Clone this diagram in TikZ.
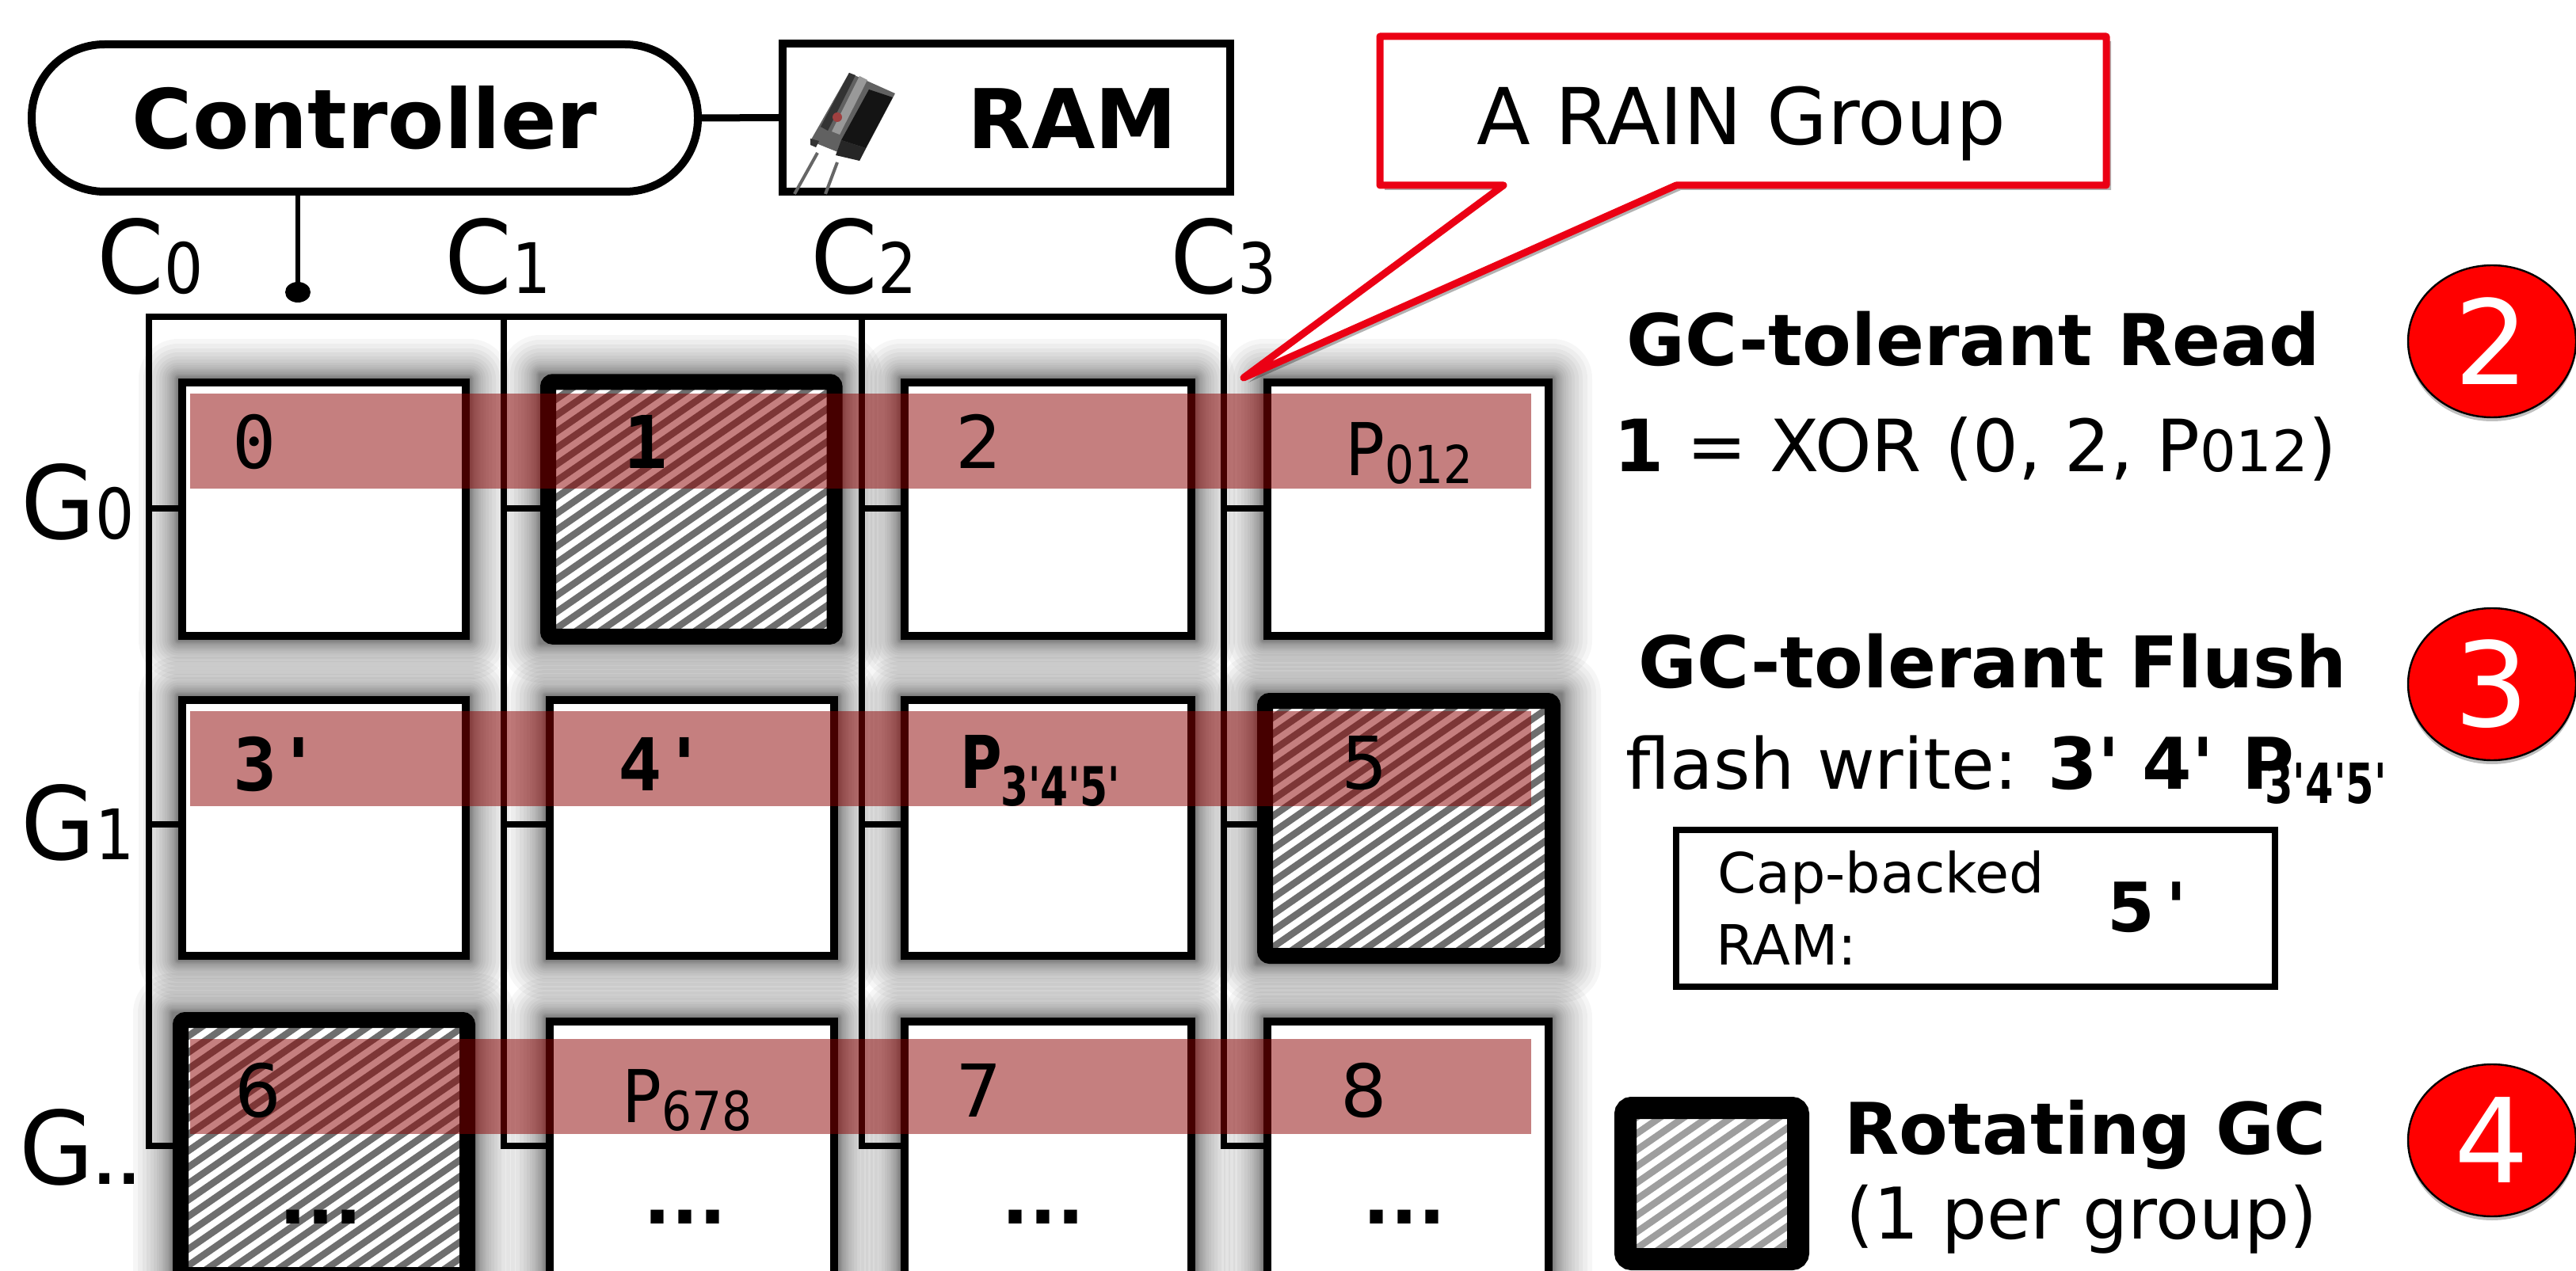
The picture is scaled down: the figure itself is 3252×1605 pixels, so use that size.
\documentclass[tikz,border=0pt]{standalone}
\usepackage{fontspec}
\setmainfont{DejaVu Sans}
\setmonofont{DejaVu Sans Mono}
\newfontfamily\dvplain{DejaVu Sans}
\usetikzlibrary{calc,shapes.geometric}
\definecolor{bandred}{RGB}{140,0,0}
\definecolor{stripegray}{RGB}{110,110,110}
\definecolor{iconstripe}{RGB}{158,158,158}
\definecolor{calloutred}{RGB}{235,0,20}
\newcommand{\fs}[1]{\fontsize{#1}{#1}\selectfont}
\newcommand{\sq}{{\dvplain '}}
\tikzset{
  wire/.style={line width=3.8pt,black},
  cellbox/.style={draw=black,line width=5pt,fill=white,inner sep=0pt},
  gcbox/.style={draw=black,line width=10pt,inner sep=0pt,rounded corners=3pt},
  band/.style={fill=bandred,fill opacity=0.5,draw=none},
  celltxt/.style={inner sep=0pt,anchor=base,font=\fs{46}},
  monotxt/.style={inner sep=0pt,anchor=base,font=\ttfamily\fs{46}},
  monobold/.style={inner sep=0pt,anchor=base,font=\ttfamily\bfseries\fs{46}},
  lab/.style={inner sep=0pt,anchor=base west},
  ttl/.style={inner sep=0pt,anchor=base west,font=\bfseries\fs{45}},
  dotstxt/.style={inner sep=0pt,anchor=base,font=\bfseries\fs{46}},
  redcirc/.style={ellipse,draw=black,line width=1.2pt,fill=red},
  numtxt/.style={inner sep=0pt,text=white,font=\fs{74}},
}
\newcommand{\softshadow}[4]{%
  \foreach \d in {1,2,3,4,5,6,8,10,12,14,17,20,24,28,33,38,44,50}{
    \fill[black,opacity=0.035,rounded corners=\d*0.5pt] (#1-\d,#2-\d) rectangle (#3+\d,#4+\d);
  }}
\newcommand{\hatch}[5]{%
  \begin{scope}
    \clip (#1,#2) rectangle (#3,#4);
    \fill[white] (#1,#2) rectangle (#3,#4);
    \foreach \k in {0,30,...,1320}{
      \draw[#5,line width=4.3pt] (#1-660+\k,#4+60) -- ++(1000,-690);
    }
  \end{scope}}
\newcommand{\CGlabel}[5]{\node[lab] (#1) at (#2,#3) {\fs{64}\scalebox{.95}[1]{#4}\fs{44}\scalebox{.88}[1]{#5}};}
\begin{document}
\begin{tikzpicture}[x=0.5pt,y=-0.5pt]
\clip (0,0) rectangle (3252,1605);
\fill[white] (0,0) rectangle (3252,1605);

% soft shadows
\softshadow{225}{478}{593}{808}
\softshadow{682}{473}{1063}{812}
\softshadow{1137}{478}{1509}{808}
\softshadow{1595}{478}{1960}{808}
\softshadow{225}{879}{593}{1212}
\softshadow{689}{879}{1058}{1212}
\softshadow{1137}{879}{1509}{1212}
\softshadow{1587}{876}{1971}{1216}
\softshadow{218}{1279}{600}{1700}
\softshadow{689}{1285}{1058}{1700}
\softshadow{1137}{1285}{1509}{1700}
\softshadow{1595}{1285}{1960}{1700}

% top elements
\node[draw=black,line width=5pt,fill=white,rounded corners=46pt,minimum width=420.5pt,minimum height=93pt,inner sep=0pt,font=\bfseries\fs{52}] (ctrl) at (460.5,149) {Controller};
\node[draw=black,line width=5pt,fill=white,minimum width=282.5pt,minimum height=93.5pt,inner sep=0pt] (ram) at (1270.5,148.5) {};
\node[inner sep=0pt,font=\bfseries\fs{52}] (ramtxt) at (1354,150) {RAM};
\draw[line width=4.5pt] (ctrl.east) -- (ram.west);

% capacitor
\draw[gray!80!black,line width=2pt] (1032,193) -- (1003,245);
\draw[gray!80!black,line width=2pt] (1057,205) -- (1042,245);
\fill[black!62] (1072,92) -- (1130,118) -- (1085,203) -- (1023,178) -- cycle;
\fill[black!92] (1097,113) -- (1127,123) -- (1093,187) -- (1062,177) -- cycle;
\fill[black!85] (1062,177) -- (1093,187) -- (1085,203) -- (1055,196) -- cycle;
\fill[black!80] (1023,175) -- (1034,178) -- (1030,186) -- (1023,183) -- cycle;
\fill[black!80] (1072,92) -- (1080,95) -- (1045,165) -- (1036,160) -- cycle;
\fill[black!40] (1085,96) -- (1095,101) -- (1060,170) -- (1050,166) -- cycle;
\fill[red!50!black!75] (1057,148) circle (3pt);

% bus
\coordinate (busdot) at (376,369);
\coordinate (ct) at (ctrl.south -| busdot);
\draw[line width=3pt] (ct) -- (busdot);
\fill[black] (busdot) ellipse (8pt and 6.5pt);
\coordinate (c0t) at (188,400);
\coordinate (c1t) at (636,400);
\coordinate (c2t) at (1088,400);
\coordinate (c3t) at (1545,400);
\coordinate (c0b) at (188,1447);
\coordinate (c1b) at (636,1447);
\coordinate (c2b) at (1088,1447);
\coordinate (c3b) at (1545,1447);
\draw[wire,line cap=rect] (c0t) -- (c3t);
\foreach \c in {0,1,2,3}{\draw[wire,line cap=rect] (c\c t) -- (c\c b);}
\foreach \c/\x in {0/230,1/695,2/1145,3/1600}{
  \draw[wire] (c\c t |- 0,642) -- (\x,642);
  \draw[wire] (c\c t |- 0,1041) -- (\x,1041);
  \draw[wire] (c\c t |- 0,1447) -- (\x,1447);
}

% cells
\tikzset{r0/.style={minimum height=160pt},r1/.style={minimum height=161.5pt},r2/.style={minimum height=205pt},
  k0/.style={minimum width=179pt},k1/.style={minimum width=179.5pt},k2/.style={minimum width=181pt},k3/.style={minimum width=177.5pt}}
\node[cellbox,r0,k0] (b00) at (409,643) {};
\node[cellbox,r0,k2] (b02) at (1323,643) {};
\node[cellbox,r0,k3] (b03) at (1777.5,643) {};
\node[cellbox,r1,k0] (b10) at (409,1045.5) {};
\node[cellbox,r1,k1] (b11) at (873.5,1045.5) {};
\node[cellbox,r1,k2] (b12) at (1323,1045.5) {};
\node[cellbox,r2,k1] (b21) at (873.5,1495) {};
\node[cellbox,r2,k2] (b22) at (1323,1495) {};
\node[cellbox,r2,k3] (b23) at (1777.5,1495) {};

% rotating GC cells
\hatch{702}{492}{1044}{796}{stripegray}
\node[gcbox,minimum width=180.75pt,minimum height=160.75pt] (b01) at (872.75,643) {};
\hatch{1607}{894}{1950}{1198}{stripegray}
\node[gcbox,minimum width=181.5pt,minimum height=161pt] (b13) at (1778.5,1046) {};
\hatch{238}{1297}{581}{1600}{stripegray}
\node[gcbox,minimum width=181pt,minimum height=161pt] (b20) at (409,1449) {};

% bands
\fill[band] (240,497) rectangle (1933,617);
\fill[band] (240,898) rectangle (1933,1018);
\fill[band] (240,1312) rectangle (1933,1432);

% cell labels
\node[monotxt] (t0) at (321,591) {0};
\node[monobold] (t1) at (815,591) {1};
\node[celltxt] (t2) at (1236,591) {2};
\node[inner sep=0pt,anchor=base west] (tp1) at (1698,600) {\fs{46}\scalebox{.9}[1]{P}\fs{33}\raisebox{-5pt}{\scalebox{.88}[1]{012}}};
\node[monobold] (t3) at (350,998) {3'};
\node[monobold] (t4) at (836,998) {4'};
\node[inner sep=0pt,anchor=base west] (tp2) at (1212,995) {\bfseries\fs{46}\scalebox{.78}[1]{P}\hspace{-1pt}\fs{34}\raisebox{-11pt}{\scalebox{.74}[1]{3\sq4\sq5\sq}}};
\node[celltxt] (t5) at (1723,996) {5};
\node[celltxt] (t6) at (326,1410) {6};
\node[inner sep=0pt,anchor=base west] (tp3) at (785,1417) {\fs{46}\scalebox{.9}[1]{P}\fs{34}\raisebox{-5pt}{\scalebox{.88}[1]{678}}};
\node[celltxt] (t7) at (1236,1410) {7};
\node[celltxt] (t8) at (1722,1410) {8};
\node[dotstxt] (d0) at (405,1545) {...};
\node[dotstxt] (d1) at (865,1545) {...};
\node[dotstxt] (d2) at (1317,1545) {...};
\node[dotstxt] (d3) at (1773,1545) {...};

% axis labels
\CGlabel{lc0}{122}{371}{C}{0}
\CGlabel{lc1}{561}{371}{C}{1}
\CGlabel{lc2}{1023}{371}{C}{2}
\CGlabel{lc3}{1477}{371}{C}{3}
\CGlabel{lg0}{26}{680}{G}{0}
\CGlabel{lg1}{26}{1085}{G}{1}
\node[lab] (lg2) at (24,1495) {\fs{64}\scalebox{.95}[1]{G}\bfseries\fs{36}.\hspace{2pt}.};

% callout
\fill[black,opacity=0.3,line join=round] (1748,52) -- (2665,52) -- (2665,240) -- (2122,240) -- (1576,483) -- (1904,240) -- (1748,240) -- cycle;
\draw[calloutred,line width=4.5pt,fill=white,line join=round] (1742,46) -- (2659,46) -- (2659,234) -- (2116,234) -- (1570,477) -- (1898,234) -- (1742,234) -- cycle;
\node[inner sep=0pt,font=\fs{49.5}] (rain) at (2198,156) {A RAIN Group};

% right column
\node[ttl] (h1) at (2053,461) {GC-tolerant Read};
\node[inner sep=0pt,anchor=base west,font=\fs{45.5}] (l1) at (2037,595) {\textbf{1} = XOR (0, 2, P\fs{36}012\fs{45.5})};
\node[ttl] (h2) at (2068,868) {GC-tolerant Flush};
\node[inner sep=0pt,anchor=base west,font=\fs{44.5}] (l2) at (2052,996) {flash write:};
\node[inner sep=0pt,anchor=base west,font=\bfseries\fs{45}] (l2b) at (2585,996) {3\sq};
\node[inner sep=0pt,anchor=base west,font=\bfseries\fs{45}] (l2c) at (2704,996) {4\sq};
\node[inner sep=0pt,anchor=base west,font=\bfseries\fs{45}] (l2d) at (2830,996) {P};
\node[inner sep=0pt,anchor=base west,font=\bfseries\fs{35}] (l2e) at (2859,1014) {\scalebox{.73}[1]{3\sq4\sq5\sq}};
\node[draw=black,line width=4pt,minimum width=378pt,minimum height=99pt,inner sep=0pt] (capbox) at (2494,1146.5) {};
\node[inner sep=0pt,anchor=base west,font=\fs{35}] (cap1) at (2168,1127) {Cap-backed};
\node[inner sep=0pt,anchor=base west,font=\fs{35}] (cap2) at (2166,1218) {RAM:};
\node[inner sep=0pt,anchor=base west,font=\bfseries\fs{43}] (cap3) at (2660,1176) {5\,\sq};
\hatch{2064}{1408}{2258}{1580}{iconstripe}
\node[gcbox,line width=14pt,rounded corners=4pt,minimum width=109pt,minimum height=95.5pt] (icon) at (2161,1494.5) {};
\node[ttl] (h3) at (2328,1457) {Rotating GC};
\node[inner sep=0pt,anchor=base west,font=\fs{45}] (l3) at (2330,1564) {(1 per group)};

% numbered circles
\fill[black,opacity=.25] (3146,436) ellipse (53pt and 48pt);
\fill[black,opacity=.25] (3146,869) ellipse (53pt and 48pt);
\fill[black,opacity=.25] (3146,1445) ellipse (53pt and 48pt);
\node[redcirc,minimum width=106pt,minimum height=96pt,inner sep=0pt] (c2) at (3146,431) {};
\node[redcirc,minimum width=106pt,minimum height=96pt,inner sep=0pt] (c3) at (3146,864) {};
\node[redcirc,minimum width=106pt,minimum height=96pt,inner sep=0pt] (c4) at (3146,1440) {};
\node[numtxt] at (c2) {2};
\node[numtxt] at (c3) {3};
\node[numtxt] at (c4) {4};
\end{tikzpicture}
\end{document}
